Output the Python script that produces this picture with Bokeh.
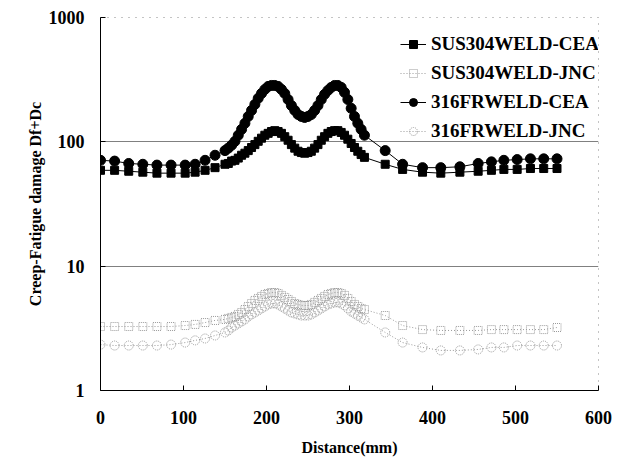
from bokeh.plotting import figure
from bokeh.models import Range1d, FixedTicker, PrintfTickFormatter, Legend, LegendItem
from bokeh.embed import file_html
from bokeh.resources import INLINE

# Distance along the weld line (mm), shared by all four series
distance = [0, 17, 34, 51, 68, 85, 102, 114, 126, 138,
            150, 154, 158, 162, 166, 170, 174, 178, 182, 186, 190, 194, 198, 202,
            206, 210, 214, 218, 222, 226, 230, 234, 238, 242, 246, 250, 254, 258,
            262, 266, 270, 274, 278, 282, 286, 290, 294, 298, 302, 306, 310, 314, 318,
            343, 364, 388, 410, 433, 455, 471, 486, 502, 518, 534, 550]

# Creep-fatigue damage Df+Dc
sus304_cea = [59, 59, 58, 57, 56, 56, 56, 57, 59, 62,
              66, 67, 70, 71, 74, 78, 81, 85, 90, 95, 101, 107, 113, 117,
              121, 123, 121, 117, 110, 103, 95, 89, 84, 82, 81, 82, 84, 89,
              95, 103, 110, 117, 121, 123, 123, 119, 113, 105, 97, 90, 84, 79, 75,
              66, 60, 57, 56, 57, 58, 59, 60, 60, 61, 61, 61]

sus304_jnc = [3.27, 3.27, 3.27, 3.27, 3.27, 3.27, 3.33, 3.40, 3.52, 3.66,
              3.73, 3.80, 3.87, 3.94, 4.09, 4.24, 4.48, 4.74, 5.01, 5.30, 5.50, 5.71, 5.92, 6.03,
              6.14, 6.14, 6.03, 5.82, 5.61, 5.40, 5.20, 5.01, 4.92, 4.83, 4.83, 4.83, 4.92, 5.11,
              5.30, 5.50, 5.71, 5.92, 6.03, 6.14, 6.14, 6.03, 5.82, 5.50, 5.20, 4.92, 4.74, 4.57, 4.48,
              4.01, 3.33, 3.09, 3.04, 3.04, 3.04, 3.09, 3.09, 3.09, 3.09, 3.09, 3.21]

f316_cea = [71, 70, 67, 66, 65, 65, 65, 66, 71, 78,
            85, 89, 94, 101, 113, 126, 141, 160, 179, 200, 224, 245, 264, 279,
            284, 284, 279, 264, 245, 219, 196, 179, 166, 160, 157, 160, 166, 179,
            196, 219, 241, 259, 274, 284, 284, 274, 250, 219, 186, 160, 141, 126, 113,
            85, 66, 62, 62, 63, 67, 69, 71, 72, 73, 73, 73]

f316_jnc = [2.34, 2.30, 2.30, 2.30, 2.30, 2.34, 2.43, 2.53, 2.62, 2.77,
            2.93, 3.04, 3.21, 3.33, 3.46, 3.59, 3.73, 3.94, 4.09, 4.24, 4.40, 4.57, 4.74, 4.92,
            5.01, 5.01, 4.92, 4.74, 4.57, 4.40, 4.24, 4.16, 4.09, 4.01, 4.01, 4.01, 4.09, 4.24,
            4.40, 4.57, 4.74, 4.92, 5.01, 5.11, 5.11, 5.01, 4.83, 4.57, 4.32, 4.16, 4.01, 3.87, 3.73,
            2.93, 2.43, 2.22, 2.10, 2.10, 2.14, 2.22, 2.22, 2.30, 2.30, 2.30, 2.30]

x_ticks = [0, 100, 200, 300, 400, 500, 600]
y_ticks = [1, 10, 100, 1000]

FONT = "Liberation Serif"

p = figure(width=638, height=463, x_range=Range1d(0, 600), y_range=Range1d(1, 1000),
           y_axis_type="log", output_backend="svg", toolbar_location=None,
           min_border_left=100, min_border_right=40, min_border_top=17, min_border_bottom=73)
p.background_fill_color = "white"
p.border_fill_color = "white"
p.outline_line_color = "#888888"
p.outline_line_dash = "1 6"

# axes
p.xaxis.ticker = FixedTicker(ticks=x_ticks)
p.yaxis.ticker = FixedTicker(ticks=y_ticks)
p.yaxis.formatter = PrintfTickFormatter(format="%d")
for ax in (p.xaxis[0], p.yaxis[0]):
    ax.axis_line_color = "black"
    ax.axis_line_width = 1
    ax.major_tick_in = 5
    ax.major_tick_out = 0
    ax.minor_tick_in = 0
    ax.minor_tick_out = 0
    ax.major_tick_line_color = "black"
    ax.major_label_text_font = FONT
    ax.major_label_text_font_style = "bold"
    ax.major_label_text_font_size = "18px"
    ax.major_label_text_color = "black"
    ax.axis_label_text_font = FONT
    ax.axis_label_text_font_style = "bold"
    ax.axis_label_text_font_size = "16px"
    ax.axis_label_text_color = "black"
p.xaxis.axis_label = "Distance(mm)"
p.yaxis.axis_label = "Creep-Fatigue damage Df+Dc"
p.xaxis.major_label_standoff = 20
p.xaxis.axis_label_standoff = 12
p.yaxis.major_label_standoff = 16
p.yaxis.axis_label_standoff = 2

# grid: only the 10 and 100 decades
p.xgrid.visible = False
p.ygrid.ticker = FixedTicker(ticks=[10, 100])
p.ygrid.grid_line_color = "#808080"
p.ygrid.grid_line_width = 1

JNC_GRAY = "#9a9a9a"

# JNC series (grey, dotted)
l_sj = p.line(distance, sus304_jnc, line_color=JNC_GRAY, line_width=1, line_dash="1 2")
m_sj = p.scatter(distance, sus304_jnc, marker="square", size=8, fill_color=None,
                 line_color=JNC_GRAY, line_width=1, line_dash="1 1")
l_fj = p.line(distance, f316_jnc, line_color=JNC_GRAY, line_width=1, line_dash="1 2")
m_fj = p.scatter(distance, f316_jnc, marker="circle", size=9, fill_color=None,
                 line_color=JNC_GRAY, line_width=1, line_dash="1 1")

# CEA series (black, solid)
l_sc = p.line(distance, sus304_cea, line_color="black", line_width=1)
m_sc = p.scatter(distance, sus304_cea, marker="square", size=8, fill_color="black",
                 line_color="black")
l_fc = p.line(distance, f316_cea, line_color="black", line_width=1)
m_fc = p.scatter(distance, f316_cea, marker="circle", size=10, fill_color="black",
                 line_color="black")

legend = Legend(items=[
    LegendItem(label="SUS304WELD-CEA", renderers=[l_sc, m_sc]),
    LegendItem(label="SUS304WELD-JNC", renderers=[l_sj, m_sj]),
    LegendItem(label="316FRWELD-CEA", renderers=[l_fc, m_fc]),
    LegendItem(label="316FRWELD-JNC", renderers=[l_fj, m_fj]),
], location=(300, 245))
legend.border_line_color = None
legend.background_fill_alpha = 0
legend.padding = 0
legend.margin = 0
legend.spacing = 0
legend.glyph_width = 26
legend.glyph_height = 20
legend.label_height = 29
legend.label_standoff = 5
legend.label_text_font = FONT
legend.label_text_font_style = "bold"
legend.label_text_font_size = "19px"
legend.label_text_color = "black"
p.add_layout(legend, "center")

open("out.html", "w").write(file_html(p, INLINE))
